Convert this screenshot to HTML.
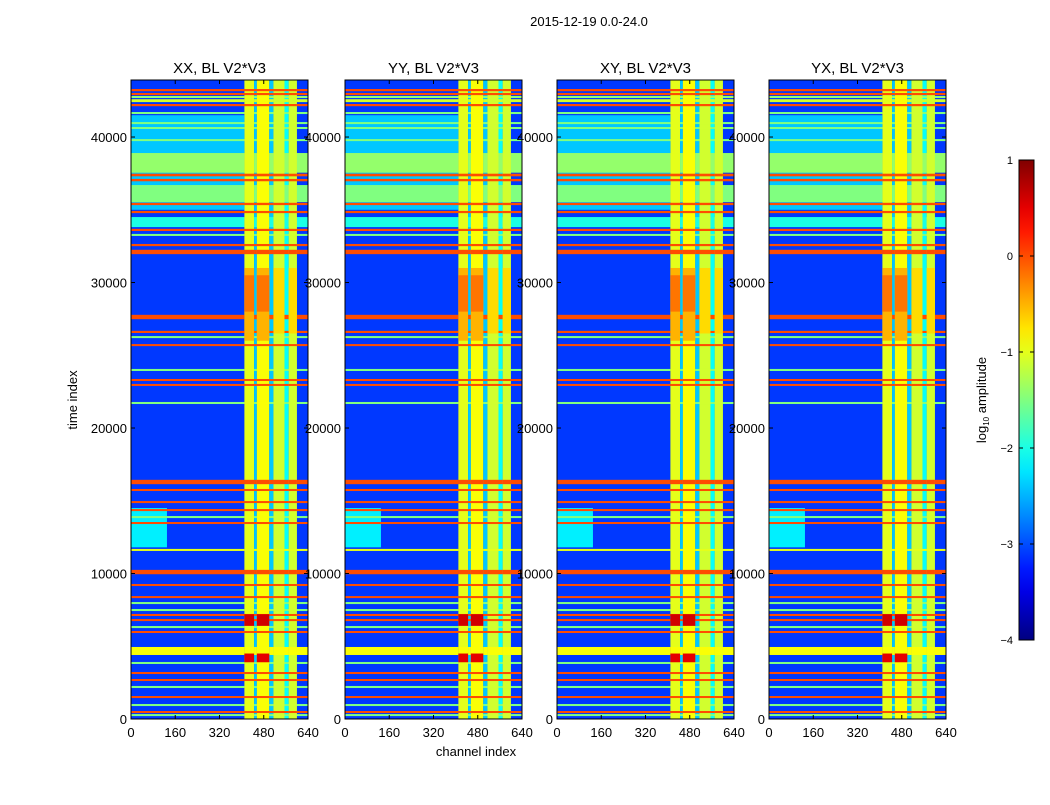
<!DOCTYPE html>
<html><head><meta charset="utf-8"><style>
body{margin:0;background:#fff;font-family:"Liberation Sans",sans-serif}
svg text{font-family:"Liberation Sans",sans-serif;fill:#000}
</style></head><body>
<svg id="fig" width="1050" height="800" viewBox="0 0 1050 800">
<rect width="1050" height="800" fill="#fff"/>
<text x="589" y="26" font-size="13" text-anchor="middle">2015-12-19 0.0-24.0</text>
<text x="476" y="756" font-size="13" text-anchor="middle">channel index</text>
<text transform="translate(77,400) rotate(-90)" font-size="13" text-anchor="middle">time index</text>
<g id="panels"></g>
<g id="cbar"></g>
</svg>
<script>
// ---- data ----
const panelTitles = ["XX, BL V2*V3","YY, BL V2*V3","XY, BL V2*V3","YX, BL V2*V3"];
const xTicks = [0,160,320,480,640];
const yTicks = [0,10000,20000,30000,40000];
const cbTicks = [1,0,-1,-2,-3,-4];
const background = -3.1;
// channel bands: start, end, log amplitude
const chanStart = [410,445,455,500,515,555,570];
const chanEnd   = [445,455,500,515,555,570,600];
const chanVal   = [-1.0,-2.4,-0.9,-2.4,-1.1,-2.1,-1.1];
// time bands: start time, end time, log amplitude
const timeStart = [43150,42880,42680,42400,42120,41580,40890,40550,39720,37550,37300,36960,35530,35320,34770,33810,33540,33200,32500,31950,27480,26530,26180,25630,23920,23230,22890,21650,16140,15670,14840,14290,13810,13400,11550,9950,9140,8310,7900,7420,7080,6730,6250,5910,4400,3780,3090,2610,2130,1440,890,410,200];
const timeEnd   = [43300,43030,42820,42600,42270,41720,41030,40690,39860,38900,37480,37120,36700,35480,34920,34500,33690,33340,32650,32250,27780,26680,26320,25770,24060,23370,23030,21790,16440,15810,14980,14430,13950,13540,11690,10250,9280,8450,8040,7560,7220,6870,6390,6050,4950,3920,3230,2750,2270,1580,1030,550,340];
const timeVal   = [0,0,-1.4,-1.1,0,-1.5,-1.5,-1.5,-1.5,-1.4,0,0,-1.5,0,0,-2.0,0,-1.5,0,0,0,0,-1.5,0,-1.5,0,0,-1.5,0,0,0,0,-1.5,0,-1.0,0,0,0,-1.5,-1.5,0,0,-1.5,0,-0.9,-1.5,0,0,-1.5,0,-1.5,0,-1.5];
// rectangular patches: c0,c1,t0,t1,value
const patchC0 = [0,0,410,455,410,455,410,455,515,570,410,455];
const patchC1 = [410,130,445,500,445,500,445,500,555,600,445,500];
const patchT0 = [35000,11800,6400,6400,3900,3900,26000,26000,26500,26500,28000,28000];
const patchT1 = [41500,14500,7200,7200,4500,4500,31000,31000,31000,31000,30500,30500];
const patchV  = [-2.4,-2.2,0.6,0.6,0.5,0.5,-0.5,-0.5,-0.7,-0.7,-0.2,-0.2];
// ---- layout ----
const panelX0=[131,345,557,769], panelW=177, yTop=80, yBot=719, tMax=43920;
const vmin=-4, vmax=1;
function clamp(a){return Math.max(0,Math.min(1,a));}
function jet(v){const f=clamp((v-vmin)/(vmax-vmin));
 const r=clamp(1.5-Math.abs(4*f-3)),g=clamp(1.5-Math.abs(4*f-2)),b=clamp(1.5-Math.abs(4*f-1));
 return `rgb(${Math.round(r*255)},${Math.round(g*255)},${Math.round(b*255)})`;}
const NS="http://www.w3.org/2000/svg";
function mk(tag,attrs,parent){const e=document.createElementNS(NS,tag);for(const k in attrs)e.setAttribute(k,attrs[k]);parent.appendChild(e);return e;}
const yS=t=>yBot-(t/tMax)*(yBot-yTop);
const panels=document.getElementById('panels');
panelX0.forEach((x0,p)=>{
 const xS=c=>x0+c/640*panelW;
 const g=mk('g',{},panels);
 
 
 const bg=mk('rect',{x:x0,y:yTop,width:panelW,height:yBot-yTop,fill:jet(background)},g);
 
 
 chanStart.forEach((c0,i)=>{
  const r=mk('rect',{x:xS(c0),y:yTop,width:xS(chanEnd[i])-xS(c0),height:yBot-yTop,fill:jet(chanVal[i])},g);
  
  
 });
 patchC0.forEach((c0,i)=>{
  if(patchV[i]<-1.5){const r=mk('rect',{x:xS(c0),y:yS(patchT1[i]),width:xS(patchC1[i])-xS(c0),height:yS(patchT0[i])-yS(patchT1[i]),fill:jet(patchV[i])},g);
  
  }
 });
 timeStart.forEach((t0,i)=>{
  const y1=yS(timeEnd[i]),h=Math.max(1,yS(t0)-y1);
  const bounds=[0].concat(chanStart.flatMap((c,j)=>[c,chanEnd[j]]),[640]);
  for(let k=0;k<bounds.length-1;k++){
   const a=bounds[k],b=bounds[k+1]; if(b<=a)continue;
   const j=chanStart.indexOf(a);
   const cv=j>=0&&chanEnd[j]===b?chanVal[j]:background;
   const r=mk('rect',{x:xS(a),y:y1,width:xS(b)-xS(a),height:h,fill:jet(Math.max(cv,timeVal[i]))},g);
   
   
  }
 });
 patchC0.forEach((c0,i)=>{
  if(patchV[i]>=-1.5){const r=mk('rect',{x:xS(c0),y:yS(patchT1[i]),width:xS(patchC1[i])-xS(c0),height:yS(patchT0[i])-yS(patchT1[i]),fill:jet(patchV[i])},g);
  
  }
 });
 const fr=mk('rect',{x:x0,y:yTop,width:panelW,height:yBot-yTop,fill:'none',stroke:'#000','stroke-width':1},g);
 
 
 const tt=mk('text',{x:x0+panelW/2,y:yTop-7,'font-size':15,'text-anchor':'middle'},g);
 tt.textContent=panelTitles[p];
 
 
 xTicks.forEach(v=>{
  mk('line',{x1:xS(v),x2:xS(v),y1:yBot,y2:yBot-4,stroke:'#000'},g);
  mk('line',{x1:xS(v),x2:xS(v),y1:yTop,y2:yTop+4,stroke:'#000'},g);
  const t=mk('text',{x:xS(v),y:yBot+18,'font-size':13,'text-anchor':'middle'},g);
  t.textContent=v;
  
  
 });
 yTicks.forEach(v=>{
  mk('line',{x1:x0,x2:x0+4,y1:yS(v),y2:yS(v),stroke:'#000'},g);
  mk('line',{x1:x0+panelW,x2:x0+panelW-4,y1:yS(v),y2:yS(v),stroke:'#000'},g);
  const t=mk('text',{x:x0-4,y:yS(v)+5,'font-size':13,'text-anchor':'end'},g);
  t.textContent=v;
  
  
 });
});
// colorbar
const cb=document.getElementById('cbar');


const defs=mk('defs',{},cb);
const lg=mk('linearGradient',{id:'jetg',x1:0,y1:1,x2:0,y2:0},defs);
for(let i=0;i<=20;i++){mk('stop',{offset:i/20,'stop-color':jet(vmin+(vmax-vmin)*i/20)},lg);}
const cbr=mk('rect',{x:1019,y:160,width:15,height:480,fill:'url(#jetg)',stroke:'#000'},cb);


const cy=v=>640-(v-vmin)/(vmax-vmin)*480;
cbTicks.forEach(v=>{
 mk('line',{x1:1019,x2:1023,y1:cy(v),y2:cy(v),stroke:'#000'},cb);
 mk('line',{x1:1034,x2:1030,y1:cy(v),y2:cy(v),stroke:'#000'},cb);
 const t=mk('text',{x:1013,y:cy(v)+4,'font-size':11,'text-anchor':'end'},cb);
 t.textContent=v<0?'\u2212'+Math.abs(v):String(v);
 
 
});
const cl=mk('text',{transform:'translate(986,400) rotate(-90)','font-size':13,'text-anchor':'middle'},cb);
cl.innerHTML='log<tspan font-size="8" dy="3">10</tspan><tspan dy="-3"> amplitude</tspan>';


</script>
</body></html>
